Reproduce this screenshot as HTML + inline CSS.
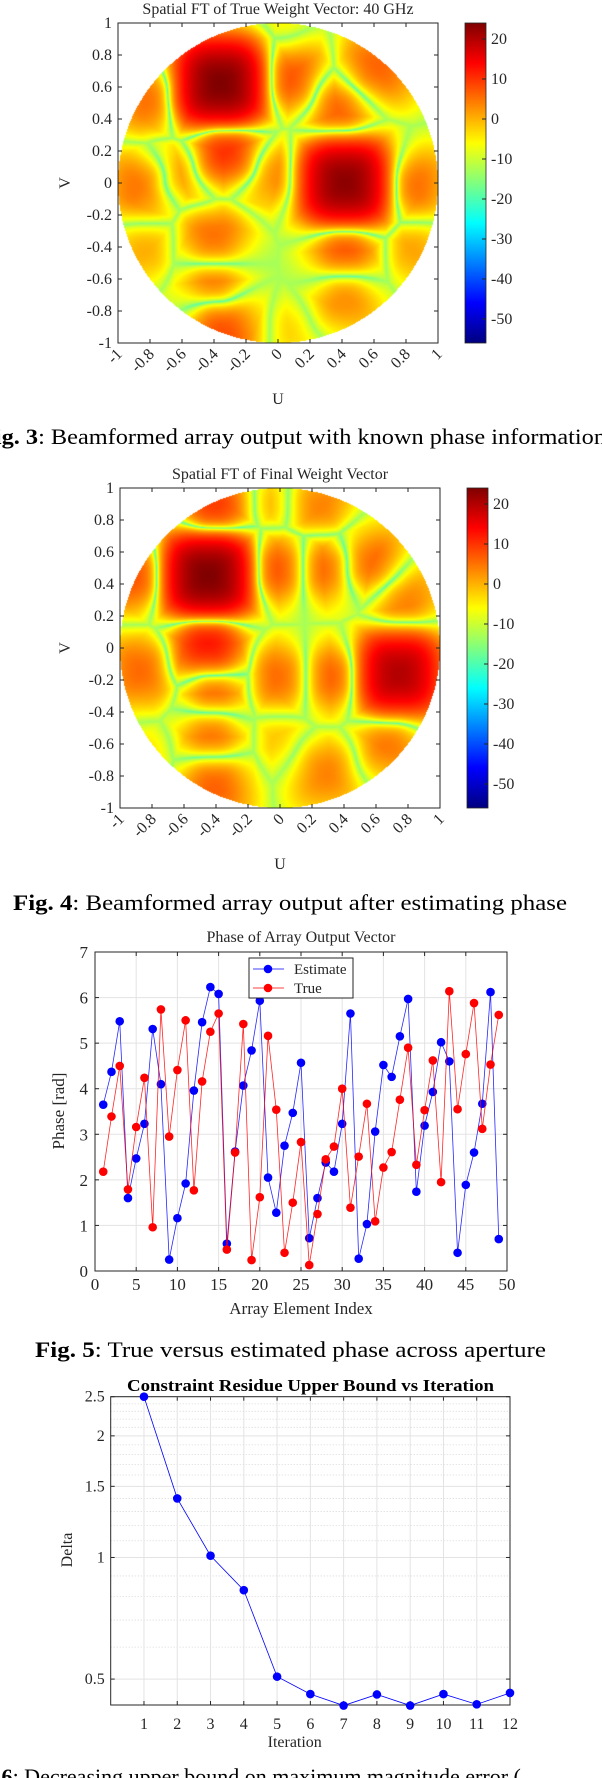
<!DOCTYPE html>
<html><head><meta charset="utf-8"><style>
html,body{margin:0;padding:0;background:#fff;}
#page{position:relative;width:602px;height:1778px;overflow:hidden;background:#fff;}
canvas{position:absolute;z-index:0;}
#svg{position:absolute;left:0;top:0;z-index:1;}
text{font-family:"Liberation Serif",serif;fill:#262626;}
</style></head><body>
<div id="page">
<canvas id="hm1" style="left:118px;top:23px" width="320" height="320"></canvas>
<canvas id="cb1" style="left:465px;top:23px" width="21" height="320"></canvas>
<canvas id="hm2" style="left:120px;top:488px" width="320" height="320"></canvas>
<canvas id="cb2" style="left:467px;top:488px" width="21" height="320"></canvas>
<svg id="svg" width="602" height="1778"></svg>
</div>
<script>
// ---------- heatmap data (lobes: u, v, level dB) ----------
const hm1U = [-0.36,0.42,0.08,0.37,0.61,-0.32,-0.85,-0.61,-0.06,0.83,-0.40,-0.83,0.42,0.83,-0.40,0.42,-0.35,0.08,-0.78,0.01];
const hm1V = [0.62,0.0,0.65,0.46,0.71,0.21,-0.02,0.06,0.06,-0.02,-0.36,-0.40,-0.40,-0.40,-0.65,-0.69,-0.90,-0.92,0.52,0.9];
const hm1DB = [24,23,8,7,7,11,6,4,5,6,6,0,8,1,6,4,9,-4,6,-4];
const hm2U = [-0.45,0.74,-0.02,0.29,0.55,-0.41,-0.07,0.24,-0.89,-0.45,-0.86,-0.41,0.0,0.34,0.77,-0.43,0.0,0.67,-0.41,0.29,-0.74];
const hm2V = [0.45,-0.16,0.49,0.49,0.53,0.86,0.9,0.88,0.45,0.03,-0.14,-0.26,-0.18,-0.18,0.30,-0.53,-0.56,-0.58,-0.85,-0.78,-0.66];
const hm2DB = [24,20,8,7,7,10,0,4,8,13,6,7,6,7,5,6,-2,5,7,4,-5];
const cbTicks = [20,10,0,-10,-20,-30,-40,-50];
const cMin=-56, cMax=24;
// ---------- phase chart data ----------
const phaseIdx = [];
for(let i=1;i<=49;i++) phaseIdx.push(i);
const estimate = [3.65,4.37,5.48,1.6,2.47,3.23,5.31,4.1,0.25,1.16,1.92,3.96,5.46,6.23,6.08,0.6,2.62,4.07,4.84,5.93,2.05,1.28,2.75,3.47,4.57,0.72,1.6,2.38,2.18,3.23,5.65,0.27,1.03,3.06,4.52,4.26,5.15,5.97,1.74,3.19,3.93,5.02,4.6,0.4,1.89,2.6,3.67,6.12,0.7];
const truth = [2.18,3.39,4.5,1.79,3.16,4.24,0.96,5.74,2.95,4.41,5.5,1.77,4.16,5.25,5.65,0.47,2.6,5.42,0.24,1.62,5.16,3.54,0.4,1.5,2.83,0.13,1.25,2.45,2.73,4.0,1.39,2.51,3.67,1.09,2.27,2.61,3.76,4.9,2.33,3.53,4.62,1.95,6.14,3.55,4.76,5.88,3.12,4.53,5.62];
const phaseXTicks = [0,5,10,15,20,25,30,35,40,45,50];
const phaseYTicks = [0,1,2,3,4,5,6,7];
// ---------- iteration chart data ----------
const iters = [1,2,3,4,5,6,7,8,9,10,11,12];
const delta = [2.5,1.4,1.01,0.83,0.507,0.459,0.43,0.458,0.43,0.459,0.433,0.462];
const deltaMajor = [0.5,1,1.5,2,2.5];
const deltaMinor = [0.6,0.7,0.8,0.9,1.1,1.2,1.3,1.4,1.6,1.7,1.8,1.9,2.1,2.2,2.3,2.4];

const NS="http://www.w3.org/2000/svg";
const svg=document.getElementById('svg');
function el(tag,attrs,parent){const e=document.createElementNS(NS,tag);for(const k in attrs)e.setAttribute(k,attrs[k]);(parent||svg).appendChild(e);return e;}
function txt(s,attrs,parent){const e=el('text',attrs,parent);e.textContent=s;return e;}

function jet(t){t=Math.max(0,Math.min(1,t));const c=x=>Math.round(255*Math.max(0,Math.min(1,1.5-Math.abs(x))));return [c(4*t-3),c(4*t-2),c(4*t-1)];}

function drawHeat(id,U,V,DB,sig){
  const cv=document.getElementById(id),ctx=cv.getContext('2d');
  const W=cv.width,H=cv.height,img=ctx.createImageData(W,H);
  const A=DB.map(d=>Math.pow(10,d/20));
  for(let py=0;py<H;py++)for(let px=0;px<W;px++){
    const u=-1+2*(px+0.5)/W, v=1-2*(py+0.5)/H, o=4*(py*W+px);
    if(u*u+v*v>1){img.data[o]=img.data[o+1]=img.data[o+2]=255;img.data[o+3]=255;continue;}
    let m1=0,m2=0;
    for(let k=0;k<A.length;k++){
      const du=Math.abs(u-U[k]),dv=Math.abs(v-V[k]);
      const d=Math.pow(du*du*du+dv*dv*dv,1/3);
      const m=A[k]*Math.exp(-(d/sig)*(d/sig));
      if(m>m1){m2=m1;m1=m;}else if(m>m2)m2=m;
    }
    const lin=(m1-m2)+0.025+0.04*m2+0.2*Math.exp(-(m1*m1));
    const db=20*Math.log10(lin);
    const c=jet((db-cMin)/(cMax-cMin));
    img.data[o]=c[0];img.data[o+1]=c[1];img.data[o+2]=c[2];img.data[o+3]=255;
  }
  ctx.putImageData(img,0,0);
}
function drawCB(id){
  const cv=document.getElementById(id),ctx=cv.getContext('2d');
  for(let y=0;y<cv.height;y++){const c=jet(1-(y+0.5)/cv.height);ctx.fillStyle=`rgb(${c[0]},${c[1]},${c[2]})`;ctx.fillRect(0,y,cv.width,1);}
}
drawHeat('hm1',hm1U,hm1V,hm1DB,0.22);
drawHeat('hm2',hm2U,hm2V,hm2DB,0.22);
drawCB('cb1');drawCB('cb2');

function heatAxes(x0,y0,cbx,title,name){
  const g=el('g',{});
  
  
  const W=320,H=320;
  const sx=u=>x0+(u+1)/2*W, sy=v=>y0+(1-v)/2*H;
  el('rect',{x:x0,y:y0,width:W,height:H,fill:'none',stroke:'#262626','stroke-width':1},g);
  const ticks=[-1,-0.8,-0.6,-0.4,-0.2,0,0.2,0.4,0.6,0.8,1];
  ticks.forEach(t=>{
    const X=sx(t),Y=sy(t);
    el('line',{x1:X,y1:y0+H,x2:X,y2:y0+H-4,stroke:'#262626'},g);
    el('line',{x1:X,y1:y0,x2:X,y2:y0+4,stroke:'#262626'},g);
    el('line',{x1:x0,y1:Y,x2:x0+4,y2:Y,stroke:'#262626'},g);
    el('line',{x1:x0+W,y1:Y,x2:x0+W-4,y2:Y,stroke:'#262626'},g);
    const lab=String(Math.round(t*10)/10);
    const ty=txt(lab,{x:x0-6,y:Y+5,'font-size':16,'text-anchor':'end'},g);
    
    
    const tx=txt(lab,{x:X+5,y:y0+H+12,'font-size':16,'text-anchor':'end',transform:`rotate(-45 ${X+5} ${y0+H+12})`},g);
    
    
  });
  const tt=txt(title,{x:x0+W/2,y:y0-9,'font-size':16,'text-anchor':'middle'},g);
  
  
  const xl=txt('U',{x:x0+W/2,y:y0+H+61,'font-size':16,'text-anchor':'middle'},g);
  
  
  const yl=txt('V',{x:0,y:0,'font-size':16,'text-anchor':'middle',transform:`translate(70 ${y0+H/2}) rotate(-90)`},g);
  
  
  el('rect',{x:cbx,y:y0,width:21,height:H,fill:'none',stroke:'#262626','stroke-width':0.8},g);
  cbTicks.forEach(t=>{
    const Y=y0+(cMax-t)/(cMax-cMin)*H;
    el('line',{x1:cbx+21,y1:Y,x2:cbx+17,y2:Y,stroke:'#262626'},g);
    const c=txt(String(t),{x:cbx+26,y:Y+5,'font-size':16},g);
    
    
  });
}
heatAxes(118,23,465,'Spatial FT of True Weight Vector:  40 GHz','heatmap-true-axes');
heatAxes(120,488,467,'Spatial FT of Final Weight Vector','heatmap-final-axes');

function caption(bold,rest,x,y,len,name){
  const t=el('text',{x:x,y:y,'font-size':22,fill:'#000'});
  if(len){t.setAttribute('textLength',len);t.setAttribute('lengthAdjust','spacingAndGlyphs');}
  
  
  const b=el('tspan',{'font-weight':'bold'},t);b.textContent=bold;
  const r=el('tspan',{},t);r.textContent=rest;
  t.style.fill='#000';
}
caption('Fig. 3',': Beamformed array output with known phase information',-20,444,626,'fig3-caption');
caption('Fig. 4',': Beamformed array output after estimating phase',13,910,554,'fig4-caption');
caption('Fig. 5',': True versus estimated phase across aperture',35,1357,511,'fig5-caption');
caption('Fig. 6',': Decreasing upper bound on maximum magnitude error (',-40,1784,null,'fig6-caption');

// ---------- phase chart ----------
(function(){
  const x0=95,x1=507,y0=952,y1=1271;
  const xS=i=>x0+(i-0)/(50-0)*(x1-x0), yS=p=>y1-(p-0)/(7-0)*(y1-y0);
  const g=el('g',{});
  
  
  phaseXTicks.forEach(t=>{
    el('line',{x1:xS(t),y1:y0,x2:xS(t),y2:y1,stroke:'#e3e3e3'},g);
    el('line',{x1:xS(t),y1:y1,x2:xS(t),y2:y1-4,stroke:'#262626'},g);
    el('line',{x1:xS(t),y1:y0,x2:xS(t),y2:y0+4,stroke:'#262626'},g);
    const l=txt(String(t),{x:xS(t),y:y1+19,'font-size':17,'text-anchor':'middle'},g);
    
    
  });
  phaseYTicks.forEach(t=>{
    el('line',{x1:x0,y1:yS(t),x2:x1,y2:yS(t),stroke:'#e3e3e3'},g);
    el('line',{x1:x0,y1:yS(t),x2:x0+4,y2:yS(t),stroke:'#262626'},g);
    el('line',{x1:x1,y1:yS(t),x2:x1-4,y2:yS(t),stroke:'#262626'},g);
    const l=txt(String(t),{x:x0-7,y:yS(t)+6,'font-size':17,'text-anchor':'end'},g);
    
    
  });
  el('rect',{x:x0,y:y0,width:x1-x0,height:y1-y0,fill:'none',stroke:'#262626'},g);
  function series(vals,color,name){
    const sg=el('g',{},g);
    
    
    const pts=vals.map((v,i)=>xS(phaseIdx[i])+','+yS(v)).join(' ');
    const pl=el('polyline',{points:pts,fill:'none',stroke:color,'stroke-width':0.8,'stroke-opacity':0.85},sg);
    
    
    vals.forEach((v,i)=>{
      const c=el('circle',{cx:xS(phaseIdx[i]),cy:yS(v),r:4.3,fill:color},sg);
      
      
    });
  }
  series(estimate,'#0000ff','estimate-series');
  series(truth,'#ff0000','true-series');
  const lg=el('g',{},g);
  
  
  el('rect',{x:249,y:958,width:104,height:40,fill:'#fff',stroke:'#262626'},lg);
  el('line',{x1:253,y1:969,x2:284,y2:969,stroke:'#0000ff','stroke-width':0.8},lg);
  el('circle',{cx:268,cy:969,r:4.3,fill:'#0000ff'},lg);
  const le=txt('Estimate',{x:294,y:974,'font-size':15},lg);
  
  
  el('line',{x1:253,y1:988,x2:284,y2:988,stroke:'#ff0000','stroke-width':0.8},lg);
  el('circle',{cx:268,cy:988,r:4.3,fill:'#ff0000'},lg);
  const lt=txt('True',{x:294,y:993,'font-size':15},lg);
  
  
  const t=txt('Phase of Array Output Vector',{x:301,y:942,'font-size':16,'text-anchor':'middle'},g);
  
  
  const xl=txt('Array Element Index',{x:301,y:1314,'font-size':17,'text-anchor':'middle'},g);
  
  
  const yl=txt('Phase [rad]',{x:0,y:0,'font-size':17,'text-anchor':'middle',transform:'translate(64 1111) rotate(-90)'},g);
  
  
})();

// ---------- iteration chart ----------
(function(){
  const x0=110.7,x1=510,y0=1396.7,y1=1705;
  const xS=i=>x0+i/12*(x1-x0);
  const yS=d=>y0+(Math.log10(2.5)-Math.log10(d))*404;
  const g=el('g',{});
  
  
  deltaMinor.forEach(d=>el('line',{x1:x0,y1:yS(d),x2:x1,y2:yS(d),stroke:'#d0d0d0','stroke-dasharray':'1,2','stroke-width':0.8},g));
  iters.forEach(i=>{
    el('line',{x1:xS(i),y1:y0,x2:xS(i),y2:y1,stroke:'#e3e3e3'},g);
    el('line',{x1:xS(i),y1:y1,x2:xS(i),y2:y1-4,stroke:'#262626'},g);
    el('line',{x1:xS(i),y1:y0,x2:xS(i),y2:y0+4,stroke:'#262626'},g);
    const l=txt(String(i),{x:xS(i),y:y1+24,'font-size':16,'text-anchor':'middle'},g);
    
    
  });
  deltaMajor.forEach(d=>{
    el('line',{x1:x0,y1:yS(d),x2:x1,y2:yS(d),stroke:'#e3e3e3'},g);
    el('line',{x1:x0,y1:yS(d),x2:x0+4,y2:yS(d),stroke:'#262626'},g);
    el('line',{x1:x1,y1:yS(d),x2:x1-4,y2:yS(d),stroke:'#262626'},g);
    const l=txt(String(d),{x:x0-6,y:yS(d)+5,'font-size':16,'text-anchor':'end'},g);
    
    
  });
  el('rect',{x:x0,y:y0,width:x1-x0,height:y1-y0,fill:'none',stroke:'#262626'},g);
  const pts=delta.map((d,k)=>xS(iters[k])+','+yS(d)).join(' ');
  const pl=el('polyline',{points:pts,fill:'none',stroke:'#0000ff','stroke-width':0.8},g);
  
  
  delta.forEach((d,k)=>{
    const c=el('circle',{cx:xS(iters[k]),cy:yS(d),r:4.3,fill:'#0000ff'},g);
    
    
  });
  const t=txt('Constraint Residue Upper Bound vs Iteration',{x:127,y:1391,'font-size':17,'font-weight':'bold',textLength:367,lengthAdjust:'spacingAndGlyphs'},g);
  t.style.fill='#000';
  
  
  const xl=txt('Iteration',{x:xS(5.5)+1,y:1747,'font-size':16,'text-anchor':'middle'},g);
  
  
  const yl=txt('Delta',{x:0,y:0,'font-size':16,'text-anchor':'middle',transform:'translate(72 1550) rotate(-90)'},g);
  
  
})();
</script>
</body></html>
